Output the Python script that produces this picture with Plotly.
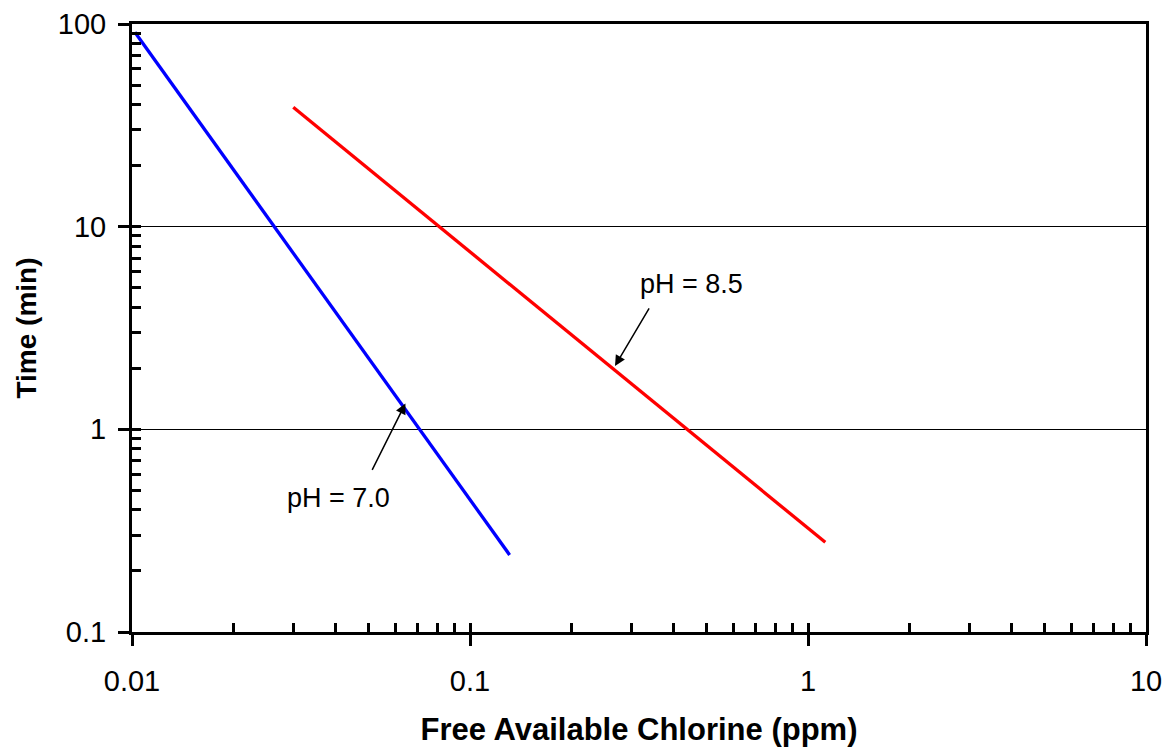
import plotly.graph_objects as go

# Data
ph70_x = [0.0102, 0.131]
ph70_y = [91.0, 0.24]
ph85_x = [0.030, 1.125]
ph85_y = [38.8, 0.277]

x_tickvals = [0.01, 0.1, 1, 10]
x_ticktext = ["0.01", "0.1", "1", "10"]
y_tickvals = [0.1, 1, 10, 100]
y_ticktext = ["0.1", "1", "10", "100"]

x_minor = [m * 10.0 ** e for e in (-2, -1, 0) for m in range(2, 10)]
y_minor = [m * 10.0 ** e for e in (-1, 0, 1) for m in range(2, 10)]

FONT = "Liberation Sans, Arial, sans-serif"

fig = go.Figure()
fig.add_trace(go.Scatter(x=ph70_x, y=ph70_y, mode="lines",
                         line=dict(color="#0000FF", width=3.3), showlegend=False))
fig.add_trace(go.Scatter(x=ph85_x, y=ph85_y, mode="lines",
                         line=dict(color="#FF0000", width=3.3), showlegend=False))

# Arrows (head in data coords, tail by pixel offset)
fig.add_annotation(x=-0.571, y=0.313, xref="x", yref="y", text="",
                   showarrow=True, arrowhead=2, arrowsize=1.4, arrowwidth=1.5,
                   arrowcolor="black", ax=35, ay=-59)
fig.add_annotation(x=-1.191, y=0.128, xref="x", yref="y", text="",
                   showarrow=True, arrowhead=2, arrowsize=1.4, arrowwidth=1.5,
                   arrowcolor="black", ax=-34, ay=68)
# Labels
fig.add_annotation(x=-0.346, y=0.716, xref="x", yref="y", text="pH = 8.5",
                   showarrow=False, font=dict(family=FONT, size=27, color="black"))
fig.add_annotation(x=-1.389, y=-0.338, xref="x", yref="y", text="pH = 7.0",
                   showarrow=False, font=dict(family=FONT, size=27, color="black"))

fig.update_layout(
    width=1168, height=747,
    margin=dict(l=132, r=22, t=24, b=115),
    paper_bgcolor="white", plot_bgcolor="white",
    font=dict(family=FONT, size=29, color="black"),
    # overlay axes to draw the inner half of the major ticks
    xaxis2=dict(type="log", range=[-2, 1], overlaying="x", side="bottom",
                anchor="y", tickvals=x_tickvals, ticks="inside", ticklen=9,
                tickwidth=3, tickcolor="black", showticklabels=False,
                showgrid=False, showline=False, zeroline=False),
    yaxis2=dict(type="log", range=[-1, 2], overlaying="y", side="left",
                anchor="x", tickvals=y_tickvals, ticks="inside", ticklen=9,
                tickwidth=3, tickcolor="black", showticklabels=False,
                showgrid=False, showline=False, zeroline=False),
)
fig.add_trace(go.Scatter(x=[None], y=[None], xaxis="x2", yaxis="y2",
                         showlegend=False, hoverinfo="skip"))
fig.update_xaxes(
    selector=dict(overlaying=None),
    type="log", range=[-2, 1], automargin=False,
    tickvals=x_tickvals, ticktext=x_ticktext,
    ticks="outside", ticklen=11, tickwidth=3, tickcolor="black",
    ticklabelstandoff=10,
    showline=True, linewidth=3, linecolor="black", mirror=True,
    showgrid=False, zeroline=False,
    tickfont=dict(family=FONT, size=29),
    minor=dict(tickvals=x_minor, ticks="inside", ticklen=9, tickwidth=3,
               tickcolor="black", showgrid=False),
    title=dict(text="<b>Free Available Chlorine (ppm)</b>",
               font=dict(family=FONT, size=31), standoff=26),
)
fig.update_yaxes(
    selector=dict(overlaying=None),
    type="log", range=[-1, 2], automargin=False,
    tickvals=y_tickvals, ticktext=y_ticktext,
    ticks="outside", ticklen=11, tickwidth=3, tickcolor="black",
    ticklabelstandoff=6,
    showline=True, linewidth=3, linecolor="black", mirror=True,
    showgrid=True, gridcolor="black", gridwidth=1.3, zeroline=False,
    tickfont=dict(family=FONT, size=29),
    minor=dict(tickvals=y_minor, ticks="inside", ticklen=9, tickwidth=3,
               tickcolor="black", showgrid=False),
    title=dict(text="<b>Time (min)</b>",
               font=dict(family=FONT, size=28), standoff=14),
)

fig.write_html("out.html", config={"displayModeBar": False},
               post_script="document.body.style.margin='0px';")
